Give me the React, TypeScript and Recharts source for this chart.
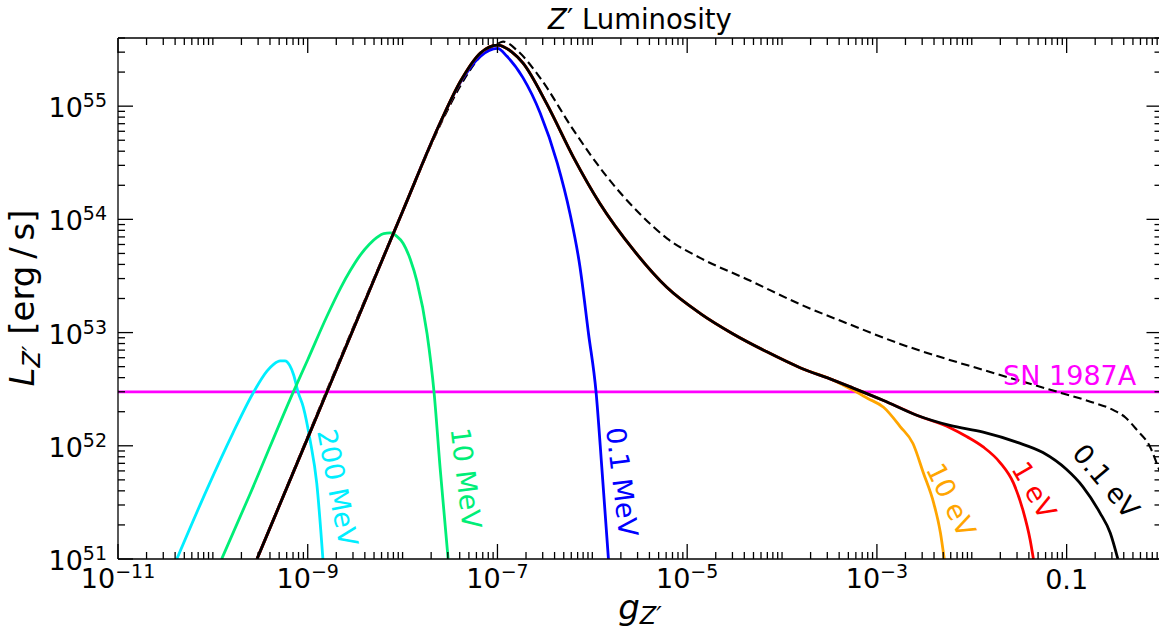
import React from 'react';
import { LineChart, Line, XAxis, YAxis, ReferenceDot } from 'recharts';

// values, as log10(g_Z') and log10(L_Z' / (erg/s))
// common trunk shared by the light-mass curves (rise, peak, trapping tail)
const trunkLogG = [-9.535, -9.0, -8.5, -8.0, -7.6, -7.39, -7.18, -7.0, -6.85, -6.73, -6.48, -6.2, -5.92, -5.566, -5.215, -4.864, -4.52, -4.16, -3.81, -3.46, -3.28, -2.93, -2.58];
const trunkLogL = [51.0, 52.07, 53.07, 54.07, 54.86, 55.22, 55.47, 55.54, 55.48, 55.38, 55.02, 54.55, 54.14, 53.73, 53.4, 53.17, 52.99, 52.83, 52.69, 52.58, 52.52, 52.4, 52.27];

const ev01TailLogG = [-2.23, -1.88, -1.52, -1.25, -1.0, -0.83, -0.65, -0.54, -0.46];
const ev01TailLogL = [52.18, 52.12, 52.03, 51.94, 51.79, 51.64, 51.41, 51.23, 51.0];

const ev1TailLogG = [-2.23, -2.05, -1.88, -1.7, -1.56, -1.46, -1.385, -1.35];
const ev1TailLogL = [52.16, 52.08, 51.99, 51.85, 51.67, 51.43, 51.17, 51.0];

const ev10TailLogG = [-3.25, -3.1, -2.93, -2.755, -2.62, -2.51, -2.4, -2.33, -2.29];
const ev10TailLogL = [52.49, 52.42, 52.34, 52.17, 52.02, 51.76, 51.49, 51.23, 51.0];

const mev01LogG = [-9.535, -9.0, -8.5, -8.0, -7.6, -7.39, -7.18, -7.0, -6.9, -6.73, -6.55, -6.37, -6.235, -6.13, -6.04, -5.96, -5.9, -5.83];
const mev01LogL = [51.0, 52.07, 53.07, 54.07, 54.86, 55.21, 55.44, 55.51, 55.44, 55.25, 54.94, 54.5, 54.05, 53.58, 52.99, 52.47, 51.81, 51.0];

const mev10LogG = [-9.907, -9.61, -9.155, -9.0, -8.8, -8.65, -8.55, -8.45, -8.35, -8.27, -8.2, -8.13, -8.06, -7.995, -7.92, -7.848, -7.742, -7.668, -7.605, -7.52];
const mev10LogL = [51.0, 51.57, 52.47, 52.76, 53.14, 53.4, 53.55, 53.68, 53.78, 53.84, 53.875, 53.88, 53.85, 53.79, 53.65, 53.45, 52.99, 52.47, 51.81, 51.0];

const mev200LogG = [-10.38, -10.06, -9.79, -9.58, -9.43, -9.36, -9.29, -9.24, -9.19, -9.15, -9.1, -9.046, -8.975, -8.905, -8.84];
const mev200LogL = [51.0, 51.62, 52.11, 52.46, 52.66, 52.72, 52.75, 52.75, 52.71, 52.63, 52.47, 52.34, 52.05, 51.67, 51.0];

// dashed envelope
const freeLogG = [-9.535, -8.0, -7.6, -7.39, -7.18, -7.0, -6.94, -6.79, -6.55, -6.2, -5.84, -5.5, -5.21, -4.864, -4.34, -3.81, -3.28, -2.755, -2.58, -1.88, -1.03, -0.75, -0.506, -0.38, -0.26, -0.12, -0.025, 0.0];
const freeLogL = [51.0, 54.07, 54.84, 55.18, 55.44, 55.55, 55.57, 55.49, 55.25, 54.79, 54.37, 54.05, 53.83, 53.66, 53.46, 53.25, 53.07, 52.9, 52.85, 52.67, 52.46, 52.39, 52.315, 52.25, 52.14, 51.99, 51.79, 51.74];

const sn1987aBound = 3e52;

const xMajorExp = [-11, -9, -7, -5, -3, -1];

const toPts = (lg: number[], ll: number[]) => lg.map((v, i) => ({ g: Math.pow(10, v), L: Math.pow(10, ll[i]) }));

const ev01Data = toPts(trunkLogG.concat(ev01TailLogG), trunkLogL.concat(ev01TailLogL));
const ev1Data = toPts(trunkLogG.concat(ev1TailLogG), trunkLogL.concat(ev1TailLogL));
const ev10Data = toPts(trunkLogG.slice(0, 20).concat(ev10TailLogG), trunkLogL.slice(0, 20).concat(ev10TailLogL));
const mev01Data = toPts(mev01LogG, mev01LogL);
const mev10Data = toPts(mev10LogG, mev10LogL);
const mev200Data = toPts(mev200LogG, mev200LogL);
const freeData = toPts(freeLogG, freeLogL);
const snData = [{ g: 1e-11, L: sn1987aBound }, { g: 1, L: sn1987aBound }];

const xTicks: number[] = [];
for (let n = -11; n < 0; n++) for (let k = 1; k <= 9; k++) xTicks.push(k * Math.pow(10, n));
xTicks.push(1);
const yTicks: number[] = [];
for (let n = 51; n <= 55; n++) for (let k = 1; k <= 9; k++) if (k * Math.pow(10, n) <= 4.01e55) yTicks.push(k * Math.pow(10, n));

const curveLabels = [
  { text: '200 MeV', lg: -8.686, ll: 51.631, angle: 79, color: '#00eeff' },
  { text: '10 MeV', lg: -7.331, ll: 51.715, angle: 83, color: '#00ee77' },
  { text: '0.1 MeV', lg: -5.686, ll: 51.68, angle: 83, color: '#0000ff' },
  { text: '10 eV', lg: -2.218, ll: 51.521, angle: 64, color: '#ffa500' },
  { text: '1 eV', lg: -1.343, ll: 51.609, angle: 60, color: '#ff0000' },
  { text: '0.1 eV', lg: -0.583, ll: 51.688, angle: 50, color: '#000000' },
];

const decade = (v: number) => {
  const e = Math.round(Math.log10(v));
  return { e, pow: Math.abs(Math.log10(v) - e) < 1e-6 };
};

const BottomTick = (props: any) => {
  const { x, y, payload } = props;
  const { e, pow } = decade(payload.value);
  const major = pow && xMajorExp.includes(e);
  return (
    <g>
      <line x1={x} x2={x} y1={y} y2={y - (major ? 15 : 7)} stroke="#000" strokeWidth={1.3} />
      {major && e === -1 && <text x={x} y={y + 30} textAnchor="middle" fontSize={27}>0.1</text>}
      {major && e !== -1 && (
        <text x={x} y={y + 29} textAnchor="middle" fontSize={27}>
          10<tspan dy={-10} fontSize={19}>{'\u2212' + -e}</tspan>
        </text>
      )}
    </g>
  );
};

const TopTick = (props: any) => {
  const { x, y, payload } = props;
  const { e, pow } = decade(payload.value);
  const major = pow && xMajorExp.includes(e);
  return <line x1={x} x2={x} y1={y} y2={y + (major ? 15 : 7)} stroke="#000" strokeWidth={1.3} />;
};

const LeftTick = (props: any) => {
  const { x, y, payload } = props;
  const { e, pow } = decade(payload.value);
  return (
    <g>
      <line x1={x} x2={x + (pow ? 15 : 7)} y1={y} y2={y} stroke="#000" strokeWidth={1.3} />
      {pow && (
        <text x={x - 11} y={y + 11} textAnchor="end" fontSize={27}>
          10<tspan dy={-10} fontSize={19}>{e}</tspan>
        </text>
      )}
    </g>
  );
};

const RightTick = (props: any) => {
  const { x, y, payload } = props;
  const { pow } = decade(payload.value);
  return <line x1={x} x2={x - (pow ? 15 : 7)} y1={y} y2={y} stroke="#000" strokeWidth={1.3} />;
};

export default function App() {
  return (
    <div style={{ position: 'absolute', left: 0, top: 0, width: 1159, height: 630, overflow: 'hidden', background: '#fff', fontFamily: '"DejaVu Sans", sans-serif' }}>
      <LineChart width={1170} height={630} margin={{ top: 0, right: 0, bottom: 0, left: 0 }}>
        <XAxis xAxisId="b" dataKey="g" type="number" scale="log" domain={[1e-11, 1]} allowDataOverflow
          ticks={xTicks} interval={0} tick={<BottomTick />} tickLine={false} tickSize={0} tickMargin={0}
          height={71} axisLine={{ stroke: '#000', strokeWidth: 1.3 }} />
        <XAxis xAxisId="t" orientation="top" dataKey="g" type="number" scale="log" domain={[1e-11, 1]} allowDataOverflow
          ticks={xTicks} interval={0} tick={<TopTick />} tickLine={false} tickSize={0} tickMargin={0}
          height={38} axisLine={{ stroke: '#000', strokeWidth: 1.3 }} />
        <YAxis yAxisId="l" dataKey="L" type="number" scale="log" domain={[1e51, 4e55]} allowDataOverflow
          ticks={yTicks} interval={0} tick={<LeftTick />} tickLine={false} tickSize={0} tickMargin={0}
          width={118} axisLine={{ stroke: '#000', strokeWidth: 1.3 }} />
        <YAxis yAxisId="r" orientation="right" dataKey="L" type="number" scale="log" domain={[1e51, 4e55]} allowDataOverflow
          ticks={yTicks} interval={0} tick={<RightTick />} tickLine={false} tickSize={0} tickMargin={0}
          width={8.5} axisLine={{ stroke: '#000', strokeWidth: 1.3 }} />

        <Line xAxisId="b" yAxisId="l" data={snData} dataKey="L" stroke="#ff00ff" strokeWidth={2.8} dot={false} isAnimationActive={false} type="linear" />
        <Line xAxisId="b" yAxisId="l" data={mev200Data} dataKey="L" stroke="#00eeff" strokeWidth={2.8} dot={false} isAnimationActive={false} type="monotone" />
        <Line xAxisId="b" yAxisId="l" data={mev10Data} dataKey="L" stroke="#00ee77" strokeWidth={2.8} dot={false} isAnimationActive={false} type="monotone" />
        <Line xAxisId="b" yAxisId="l" data={freeData} dataKey="L" stroke="#000" strokeWidth={2.1} strokeDasharray="8.5 4.5" dot={false} isAnimationActive={false} type="monotone" />
        <Line xAxisId="b" yAxisId="l" data={mev01Data} dataKey="L" stroke="#0000ff" strokeWidth={2.8} dot={false} isAnimationActive={false} type="monotone" />
        <Line xAxisId="b" yAxisId="l" data={ev10Data} dataKey="L" stroke="#ffa500" strokeWidth={2.8} dot={false} isAnimationActive={false} type="monotone" />
        <Line xAxisId="b" yAxisId="l" data={ev1Data} dataKey="L" stroke="#ff0000" strokeWidth={2.8} dot={false} isAnimationActive={false} type="monotone" />
        <Line xAxisId="b" yAxisId="l" data={ev01Data} dataKey="L" stroke="#000" strokeWidth={2.8} dot={false} isAnimationActive={false} type="monotone" />

        {curveLabels.map((c) => (
          <ReferenceDot key={c.text} xAxisId="b" yAxisId="l" x={Math.pow(10, c.lg)} y={Math.pow(10, c.ll)} r={0}
            shape={(p: any) => (
              <text x={p.cx} y={p.cy} fill={c.color} fontSize={27} textAnchor="middle" dominantBaseline="central"
                transform={`rotate(${c.angle} ${p.cx} ${p.cy})`}>{c.text}</text>
            )} />
        ))}
        <ReferenceDot xAxisId="b" yAxisId="l" x={Math.pow(10, -0.968)} y={Math.pow(10, 52.624)} r={0}
          shape={(p: any) => (
            <text x={p.cx} y={p.cy} fill="#ff00ff" fontSize={27} textAnchor="middle" dominantBaseline="central">SN 1987A</text>
          )} />
      </LineChart>
      <svg width={1159} height={630} style={{ position: 'absolute', left: 0, top: 0, pointerEvents: 'none' }}>
        <text x={640} y={29} textAnchor="middle" fontSize={27.5}>
          <tspan fontStyle="italic">Z</tspan>{'\u2032 Luminosity'}
        </text>
        <text x={640} y={619} textAnchor="middle" fontSize={34} fontStyle="italic">
          g<tspan dy={5} fontSize={24}>{'Z\u2032'}</tspan>
        </text>
        <text x={34} y={298} textAnchor="middle" fontSize={34} transform="rotate(-90 34 298)">
          <tspan fontStyle="italic">L</tspan>
          <tspan dy={6} fontSize={24} fontStyle="italic">{'Z\u2032'}</tspan>
          <tspan dy={-6}>{' [erg\u2009/\u2009s]'}</tspan>
        </text>
      </svg>
    </div>
  );
}
